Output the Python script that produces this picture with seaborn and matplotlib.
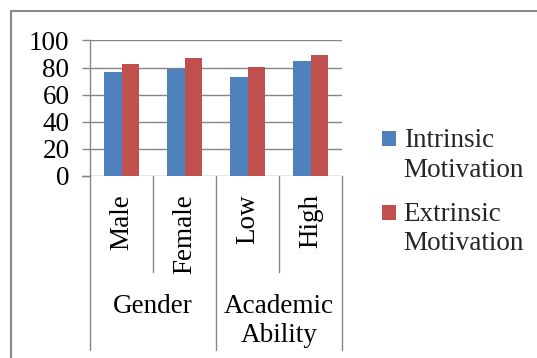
import matplotlib
matplotlib.use("Agg")
import matplotlib.pyplot as plt
from matplotlib.lines import Line2D
import pandas as pd
import seaborn as sns

categories = ["Male", "Female", "Low", "High"]
groups = ["Gender", "Academic\nAbility"]
intrinsic = [76.6, 78.8, 72.9, 85.2]
extrinsic = [82.7, 86.9, 80.7, 89.6]
series_names = ["Intrinsic\nMotivation", "Extrinsic\nMotivation"]
y_ticks = [0, 20, 40, 60, 80, 100]

df = pd.DataFrame({
    "category": categories * 2,
    "series": [series_names[0]] * 4 + [series_names[1]] * 4,
    "value": intrinsic + extrinsic,
})

sns.set_theme(style="white")
plt.rcParams["font.family"] = ["Liberation Serif", "DejaVu Serif"]
FS = 19.5
GRID = "#868686"

W, H, DPI = 537, 358, 100
fig = plt.figure(figsize=(W / DPI, H / DPI), dpi=DPI)
fig.patch.set_facecolor("white")

# axes box in pixel units
L, R, T, B = 90, 342, 40.5, 176
ax = fig.add_axes([L / W, 1 - B / H, (R - L) / W, (B - T) / H])

sns.barplot(data=df, x="category", y="value", hue="series",
            palette=["#4F81BD", "#C0504D"], width=0.55, saturation=1,
            linewidth=0, ax=ax, legend=True)

ax.set_xlim(-0.5, len(categories) - 0.5)
ax.set_ylim(0, 100)
ax.set_yticks(y_ticks)
ax.set_yticklabels([str(t) for t in y_ticks], fontsize=FS, color="black")
ax.set_xlabel("")
ax.set_ylabel("")
ax.yaxis.grid(True, color=GRID, linewidth=1.0)
ax.set_axisbelow(True)
for side in ["top", "right", "bottom"]:
    ax.spines[side].set_visible(False)
ax.spines["left"].set_color(GRID)
ax.spines["left"].set_linewidth(1.0)
ax.tick_params(axis="y", left=True, length=5.8, width=1.0, color=GRID, pad=9)
ax.tick_params(axis="x", bottom=False, pad=7)
ax.set_xticks(range(len(categories)))
ax.set_xticklabels(categories, rotation=90, fontsize=FS, color="black", va="top")

# tick extension of the baseline to the left of the axis
ax.plot([-0.5 - 8 / 63, -0.5], [0, 0], color=GRID, lw=1.0, clip_on=False)

# category separators below the axis
px = 1 / (B - T)  # one pixel in axes fraction (vertical)
inner_drop = (272 - B) * px
outer_drop = (350 - B) * px
trans = ax.get_xaxis_transform()
for xb in [-0.5, 1.5, 3.5]:
    ax.add_line(Line2D([xb, xb], [0, -outer_drop], transform=trans,
                       color=GRID, lw=1.0, clip_on=False))
for xb in [0.5, 2.5]:
    ax.add_line(Line2D([xb, xb], [0, -inner_drop], transform=trans,
                       color=GRID, lw=1.0, clip_on=False))

# group labels
for gi, g in enumerate(groups):
    ax.text(0.5 + 2 * gi, -(294 - B) * px, g, transform=trans, ha="center",
            va="top", fontsize=FS, color="black", linespacing=1.22)

# legend
leg = ax.legend(loc="upper left", bbox_to_anchor=(382 / W, 1 - 128 / H),
                bbox_transform=fig.transFigure, frameon=False, fontsize=FS,
                handlelength=0.52, handleheight=0.5, handletextpad=0.28,
                labelspacing=0.7, borderpad=0, borderaxespad=0)
for t in leg.get_texts():
    t.set_linespacing(1.25)
for p in leg.get_patches():
    p.set_y(p.get_y() + 12)

# outer frame
fig.add_artist(Line2D([10.5 / W, 10.5 / W], [0, 1 - 11 / H],
                      transform=fig.transFigure, color="#898989", lw=1.5))
fig.add_artist(Line2D([10.5 / W, 1], [1 - 11 / H, 1 - 11 / H],
                      transform=fig.transFigure, color="#898989", lw=1.5))

fig.savefig("out.png", dpi=DPI)
